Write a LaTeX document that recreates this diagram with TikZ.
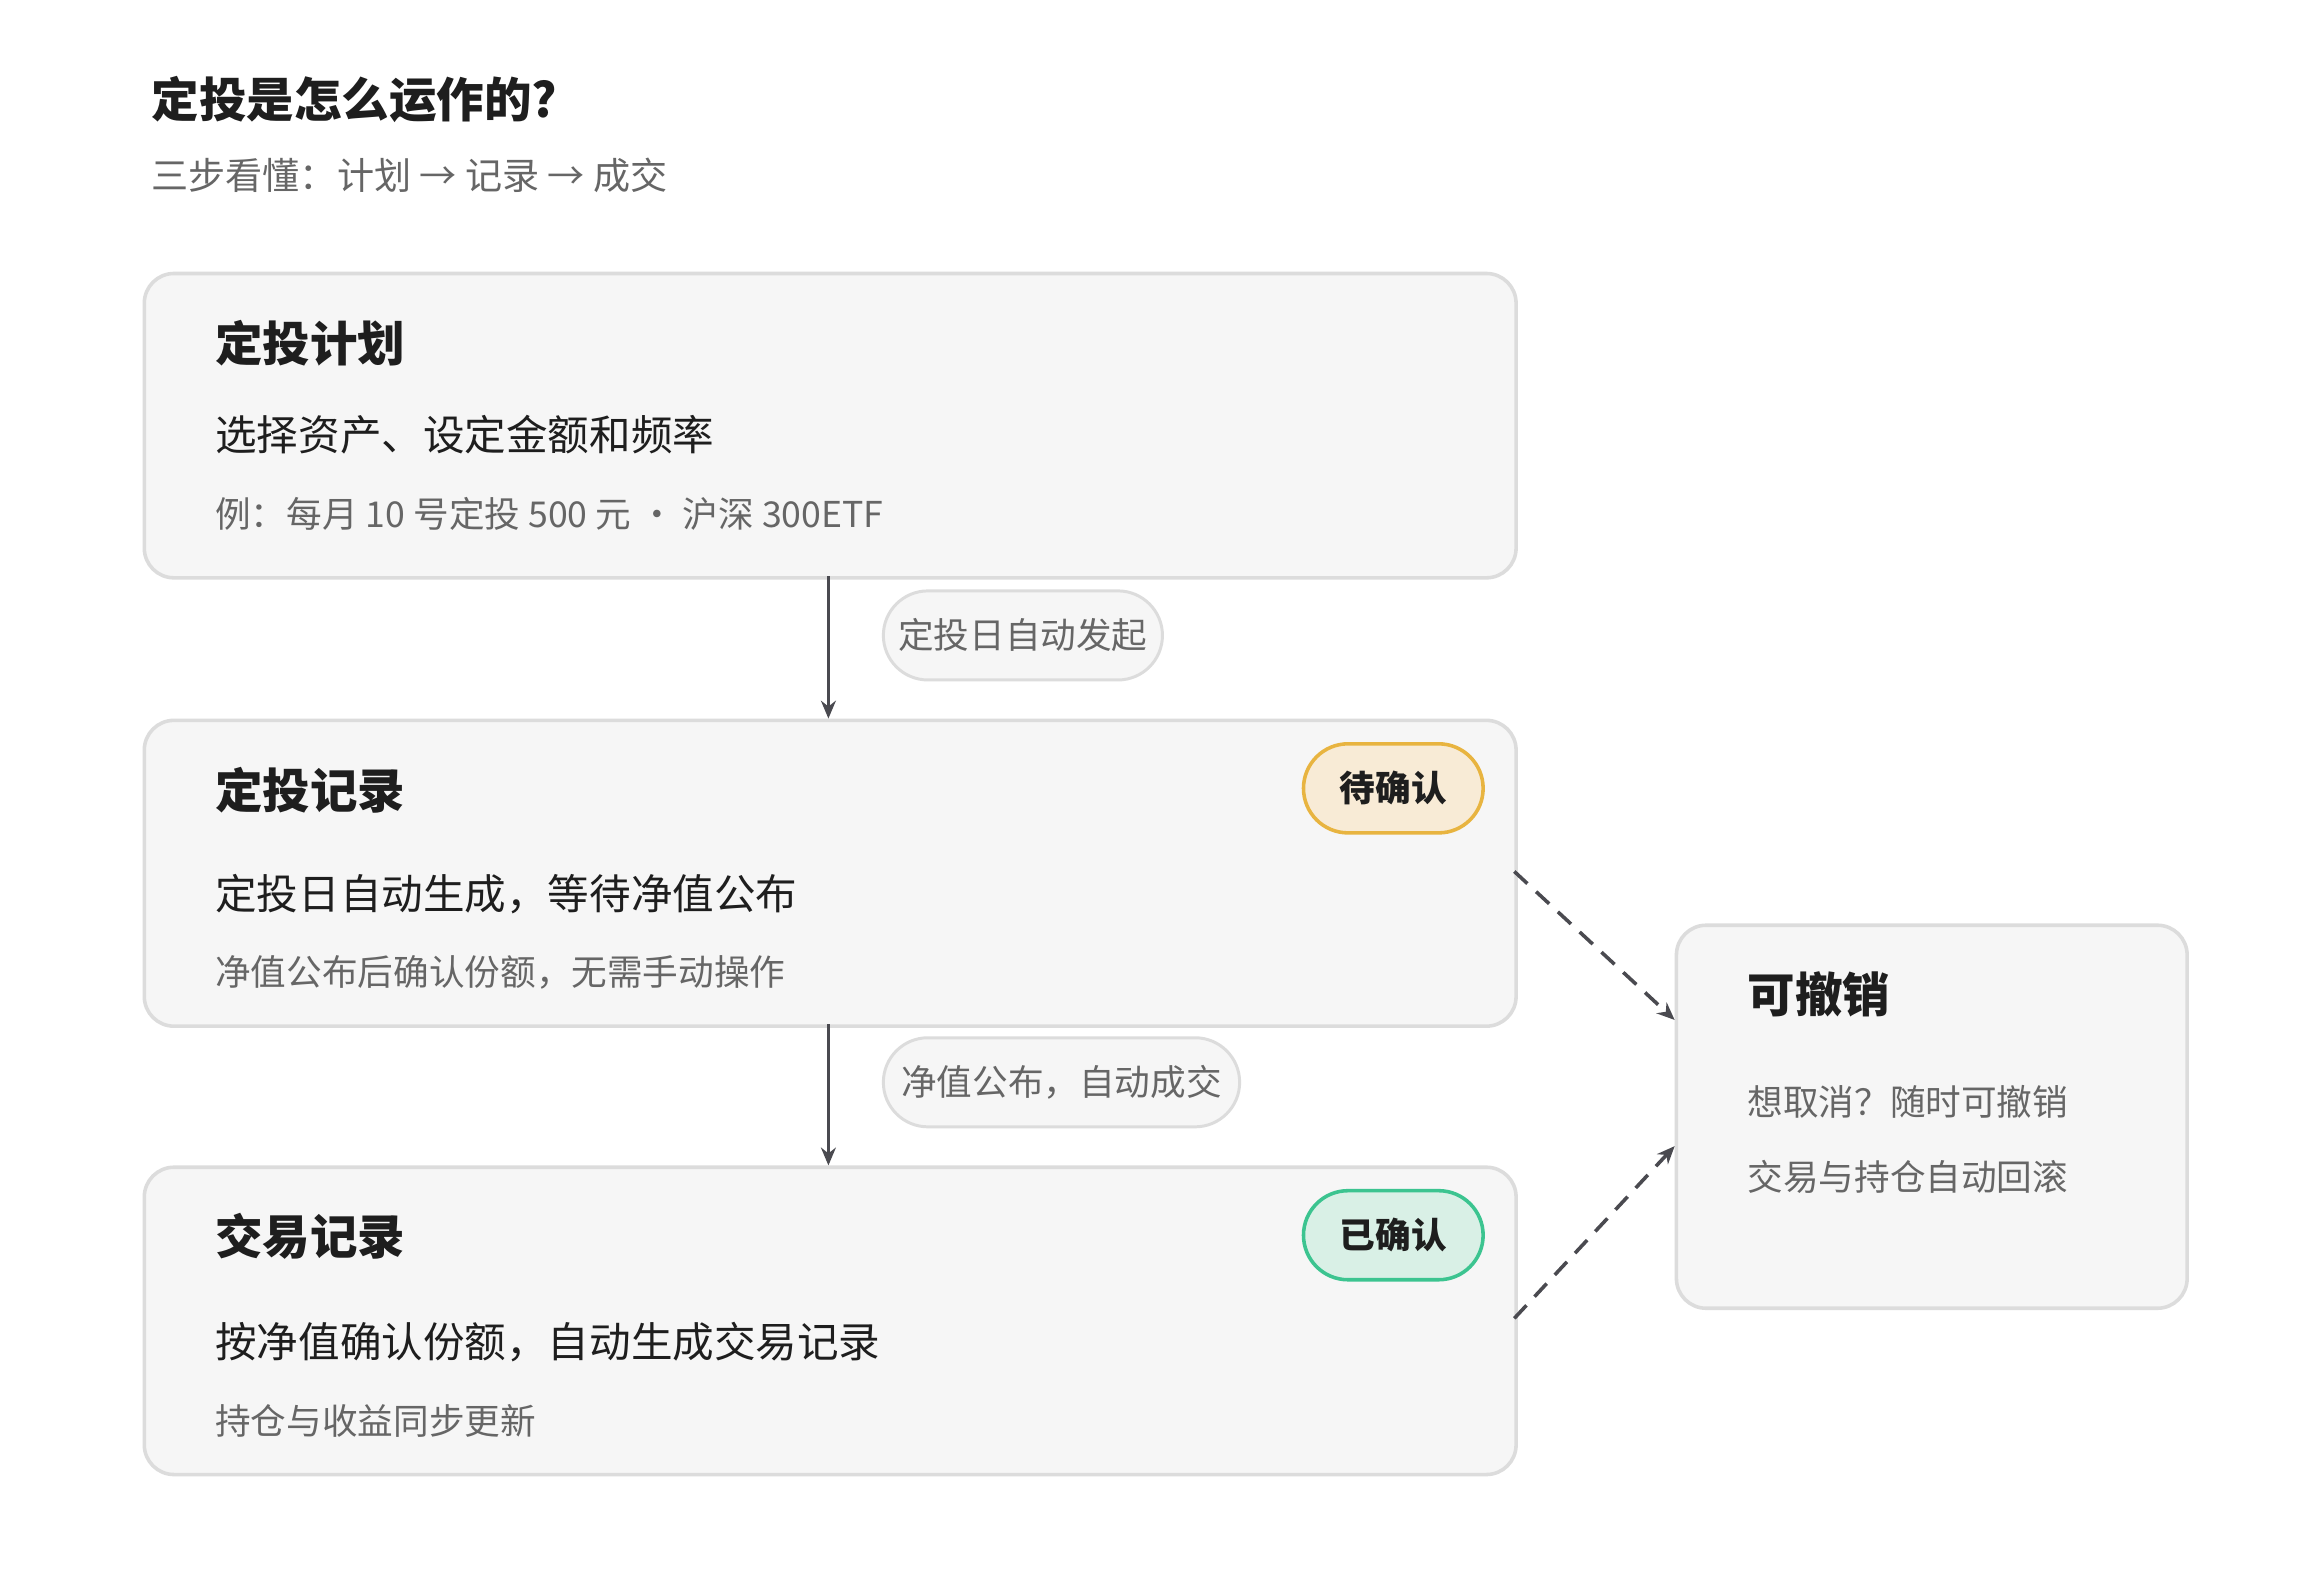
\documentclass[tikz,border=0pt]{standalone}
\usepackage{fontspec}
\setmainfont{Noto Sans CJK SC}
\usetikzlibrary{arrows.meta}
\definecolor{boxfill}{HTML}{F6F6F6}
\definecolor{boxline}{HTML}{DCDCDC}
\definecolor{txt}{HTML}{1E1E1E}
\definecolor{sub}{HTML}{666666}
\definecolor{arr}{HTML}{4A4A50}
\definecolor{pendfill}{HTML}{F8EBD6}
\definecolor{pendline}{HTML}{E8B440}
\definecolor{okfill}{HTML}{D9F0E6}
\definecolor{okline}{HTML}{3CC490}
\begin{document}
\begin{tikzpicture}[x=0.5pt,y=-0.5pt,
  card/.style={draw=boxline,line width=1.2pt,fill=boxfill,rounded corners=10pt},
  head/.style={anchor=west,font=\fontsize{16}{18}\selectfont\bfseries,text=txt},
  body/.style={anchor=west,font=\fontsize{14}{16}\selectfont,text=txt},
  note/.style={anchor=west,font=\fontsize{12}{14}\selectfont,text=sub},
  pill/.style={draw=boxline,line width=1pt,fill=boxfill,rounded corners=15pt,minimum height=30pt,inner xsep=3pt,font=\fontsize{12}{14}\selectfont,text=sub},
  badge/.style={line width=1.2pt,rounded corners=15pt,minimum width=60.5pt,minimum height=30pt,font=\fontsize{12}{14}\selectfont\bfseries,text=txt},
  flow/.style={draw=arr,line width=1.2pt,-{Stealth[length=6pt,width=5pt]}},
  dflow/.style={draw=arr,line width=1.2pt,dashed,dash pattern=on 6pt off 4pt,-{Stealth[length=6pt,width=5pt]}}]
\useasboundingbox[fill=white] (0,0) rectangle (1560,1073);
\node[anchor=west,font=\fontsize{16}{18}\selectfont\bfseries,text=txt] (title) at (95,67) {定投是怎么运作的?};
\node[anchor=west,font=\fontsize{12.5}{14}\selectfont,text=sub] (subt) at (95,118) {三步看懂：计划 → 记录 → 成交};
% boxes
\node[card,minimum width=462pt,minimum height=102.5pt,anchor=north west] (b1) at (96,183) {};
\node[card,minimum width=462pt,minimum height=103pt,anchor=north west] (b2) at (96,484) {};
\node[card,minimum width=462pt,minimum height=103.5pt,anchor=north west] (b3) at (96,785) {};
\node[card,minimum width=172pt,minimum height=129pt,anchor=north west] (b4) at (1128,622) {};
% texts
\node[head] (h1) at (138,231) {定投计划};
\node[body] (t1) at (138,293) {选择资产、设定金额和频率};
\node[note] (n1) at (138,346) {例：每月 10 号定投 500 元 · 沪深 300ETF};
\node[head] (h2) at (138,532) {定投记录};
\node[body] (t2) at (138,602) {定投日自动生成，等待净值公布};
\node[note] (n2) at (138,655) {净值公布后确认份额，无需手动操作};
\node[head] (h3) at (138,833) {交易记录};
\node[body] (t3) at (138,904) {按净值确认份额，自动生成交易记录};
\node[note] (n3) at (138,957) {持仓与收益同步更新};
\node[head] (h4) at (1170,670) {可撤销};
\node[note] (n4a) at (1170,742) {想取消？随时可撤销};
\node[note] (n4b) at (1170,793) {交易与持仓自动回滚};
% badges
\node[badge,draw=pendline,fill=pendfill] (bd1) at (938.5,531) {待确认};
\node[badge,draw=okline,fill=okfill] (bd2) at (938.5,832) {已确认};
% arrows
\coordinate (a1s) at (558,388); \coordinate (a1e) at (558,484);
\coordinate (a2s) at (558,690); \coordinate (a2e) at (558,785);
\draw[flow] (a1s) -- (a1e);
\draw[flow] (a2s) -- (a2e);
\node[pill,minimum width=94pt] (p1) at (689,428) {定投日自动发起};
\node[pill,minimum width=120pt] (p2) at (715,729) {净值公布，自动成交};
\coordinate (d1s) at (1020,587); \coordinate (d1e) at (1128,687);
\coordinate (d2s) at (1020,888); \coordinate (d2e) at (1128,772);
\draw[dflow] (d1s) -- (d1e);
\draw[dflow] (d2s) -- (d2e);
\end{tikzpicture}
\end{document}
